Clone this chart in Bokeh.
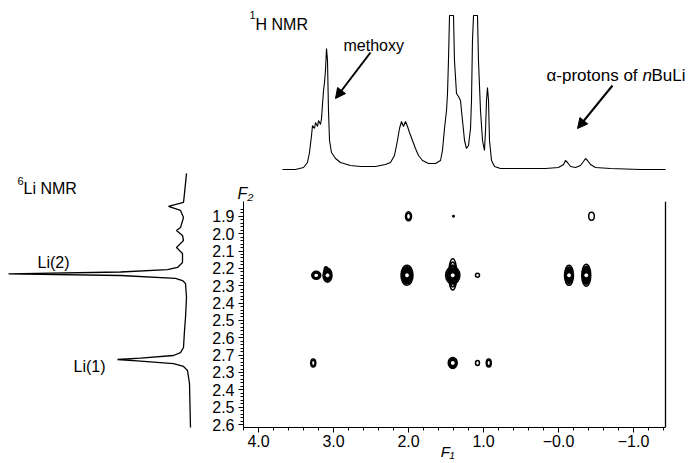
from bokeh.plotting import figure
from bokeh.models import Range1d, FixedTicker, Label, Arrow, NormalHead, ColumnDataSource, Span
from bokeh.layouts import row, column
from bokeh.embed import file_html
from bokeh.resources import INLINE

FONT = "Liberation Sans"

# ---------------- data ----------------
# 1H NMR trace (ppm, intensity above baseline)
h1_ppm = [3.68, 3.507, 3.40, 3.347, 3.32, 3.293, 3.28, 3.253, 3.24, 3.213, 3.20, 3.173, 3.16,
          3.133, 3.12, 3.107, 3.093, 3.08, 3.067, 3.053, 3.027, 2.973, 2.907, 2.773, 2.64, 2.44,
          2.307, 2.24, 2.187, 2.147, 2.12, 2.093, 2.067, 2.04, 2.013, 1.987, 1.947, 1.907, 1.867,
          1.813, 1.733, 1.64, 1.573, 1.547, 1.52, 1.493, 1.48, 1.467, 1.453, 1.40, 1.387, 1.36,
          1.333, 1.307, 1.28, 1.253, 1.227, 1.20, 1.173, 1.16, 1.147, 1.133, 1.08, 1.067, 1.04,
          1.013, 0.987, 0.973, 0.96, 0.947, 0.933, 0.92, 0.893, 0.853, 0.773, 0.507, 0.173, 0.0,
          -0.067, -0.093, -0.12, -0.16, -0.227, -0.293, -0.333, -0.36, -0.387, -0.427, -0.493,
          -0.693, -1.093, -1.427]
h1_int = [1, 1, 3, 8, 18, 35, 45, 42, 48, 44, 50, 46, 52,
          80, 88, 100, 122, 110, 60, 30, 18, 12, 8, 5, 4, 4,
          6, 8, 15, 30, 42, 49, 44, 49, 44, 38, 30, 22, 15,
          10, 7, 7, 10, 20, 42, 60, 77, 110, 155, 155, 110, 77,
          74, 70, 50, 30, 22, 25, 42, 70, 130, 155, 155, 110, 60,
          30, 20, 40, 70, 83, 70, 30, 10, 4, 2, 2, 2, 3,
          6, 10, 8, 4, 3, 5, 9, 12, 10, 6, 3,
          2, 1, 1]

# 6Li NMR trace (intensity, F2)
li_int = [1, 3, 4, 19, 7, 4, 7, 11, 5, 4, 11, 5, 5, 10, 20, 67, 179, 67, 12, 5, 2, 1, 2, 3, 4,
          7, 14, 47, 70, 47, 14, 4, 0, -2, -3]
li_f2 = [1.659, 1.774, 1.826, 1.849, 1.872, 1.912, 1.970, 1.987, 2.015, 2.044, 2.084, 2.119,
         2.170, 2.199, 2.211, 2.225, 2.236, 2.245, 2.262, 2.274, 2.291, 2.371, 2.486, 2.561,
         2.658, 2.687, 2.704, 2.719, 2.727, 2.736, 2.750, 2.767, 2.790, 2.865, 3.117]

# 2D cross peaks: centre (F1, F2), extent (ppm, F2 units), contour rings, dense core
pk_f1 = [2.00, 1.40, -0.44, 3.23, 3.08, 3.10, 2.02, 1.41, 1.41, 1.08, -0.14, -0.37, 3.27, 1.41, 1.08, 0.93]
pk_f2 = [1.90, 1.90, 1.90, 2.24, 2.24, 2.215, 2.24, 2.24, 2.235, 2.24, 2.24, 2.24, 2.745, 2.745, 2.745, 2.745]
pk_w = [0.08, 0.02, 0.075, 0.12, 0.12, 0.05, 0.16, 0.19, 0.11, 0.053, 0.12, 0.12, 0.067, 0.12, 0.053, 0.067]
pk_h = [0.052, 0.008, 0.046, 0.046, 0.08, 0.05, 0.115, 0.10, 0.18, 0.023, 0.115, 0.126, 0.046, 0.063, 0.029, 0.046]
pk_rings = [2, 1, 1, 3, 2, 2, 4, 3, 3, 1, 3, 3, 2, 3, 1, 2]
pk_dense = [0, 0, 0, 0, 1, 0, 1, 1, 0, 0, 1, 1, 0, 1, 0, 0]

x_ticks = [4.0, 3.0, 2.0, 1.0, 0.0, -1.0]
x_labels = ["4.0", "3.0", "2.0", "1.0", "\u22120.0", "\u22121.0"]
y_ticks = [1.9, 2.0, 2.1, 2.2, 2.3, 2.4, 2.5, 2.6, 2.7, 2.8, 2.9, 3.0, 3.1]
y_labels = ["1.9", "2.0", "2.1", "2.2", "2.3", "2.4", "2.5", "2.6", "2.7", "2.3", "2.4", "2.5", "2.6"]

# ---------------- geometry helpers (page pixels -> data) ----------------
PPX = 75.0      # px per ppm on F1
PPY = 174.3     # px per unit on F2
def ppm_at(px):
    return 4.2 - (px - 243) / PPX
def f2_at(py):
    return 2.0 + (py - 232.3) / PPY
def h1_at(py):
    return 170 - py
def li_at(px):
    return 187 - px

def lab(p, x, y, text, size="16px", style="normal", baseline="alphabetic", align="left"):
    p.add_layout(Label(x=x, y=y, text=text, text_font=FONT, text_font_size=size,
                       text_font_style=style, text_baseline=baseline, text_align=align,
                       text_color="black"))

# ---------------- left: 6Li spectrum ----------------
left = figure(width=195, height=462, x_range=Range1d(li_at(0), li_at(195)),
              y_range=Range1d(f2_at(462), f2_at(0)), x_axis_type=None, y_axis_type=None,
              toolbar_location=None, output_backend="svg", min_border=0,
              outline_line_color=None)
left.line(li_int, li_f2, line_color="black", line_width=1.3)
lab(left, li_at(17), f2_at(176), "6", size="11px", baseline="top")
lab(left, li_at(23), f2_at(188), "Li NMR")
lab(left, li_at(37), f2_at(262), "Li(2)")
lab(left, li_at(73), f2_at(366), "Li(1)")

XR = (4.2, ppm_at(693))
X_BOX_RIGHT = ppm_at(665)

# ---------------- top: 1H spectrum ----------------
top = figure(width=498, height=182, x_range=Range1d(*XR),
             y_range=Range1d(h1_at(182), h1_at(0)), x_axis_type=None, y_axis_type=None,
             toolbar_location=None, output_backend="svg", min_border_left=48,
             min_border_right=0, min_border_top=0, min_border_bottom=0,
             outline_line_color=None)
top.line(h1_ppm, h1_int, line_color="black", line_width=1.1)
lab(top, ppm_at(249), h1_at(10), "1", size="11px", baseline="top")
lab(top, ppm_at(255), h1_at(24), "H NMR")
lab(top, ppm_at(343), h1_at(45), "methoxy")
lab(top, ppm_at(546), h1_at(75), "\u03b1-protons of", size="17px")
lab(top, ppm_at(642), h1_at(75), "n", size="17px", style="italic")
lab(top, ppm_at(651), h1_at(75), "BuLi", size="17px")
for (xs, ys, xe, ye) in [(370, 52, 335, 98), (612, 85, 577, 128)]:
    top.add_layout(Arrow(end=NormalHead(size=10, fill_color="black", line_color="black"),
                         x_start=ppm_at(xs), y_start=h1_at(ys), x_end=ppm_at(xe), y_end=h1_at(ye),
                         line_color="black", line_width=2))

# ---------------- main: 2D plot ----------------
Y_MAIN = (f2_at(427), f2_at(200))
main = figure(width=498, height=280, x_range=Range1d(*XR),
              y_range=Range1d(*Y_MAIN), toolbar_location=None,
              output_backend="svg", min_border_left=48, min_border_right=0,
              min_border_top=18, min_border_bottom=35, outline_line_color=None,
              title="F\u2082")
main.xgrid.visible = False
main.ygrid.visible = False
main.title.align = "left"
main.title.offset = -6
main.title.standoff = 0
main.title.text_font = FONT
main.title.text_font_size = "16px"
main.title.text_font_style = "italic"
main.title.text_color = "black"

# right-hand edge of the box
main.segment(x0=[X_BOX_RIGHT], y0=[Y_MAIN[0]], x1=[X_BOX_RIGHT], y1=[Y_MAIN[1]],
             line_color="black", line_width=1.3)

rx, ry, rw, rh = [], [], [], []
for f1, f2, w, h, n in zip(pk_f1, pk_f2, pk_w, pk_h, pk_rings):
    for k in range(n):
        s = 1.0 - 0.6 * k / n
        rx.append(f1); ry.append(f2); rw.append(w * s); rh.append(h * s)
dx = [f for f, d in zip(pk_f1, pk_dense) if d]
dy = [f for f, d in zip(pk_f2, pk_dense) if d]
dw = [w * 0.85 for w, d in zip(pk_w, pk_dense) if d]
dh = [h * 0.85 for h, d in zip(pk_h, pk_dense) if d]
main.ellipse(x=dx, y=dy, width=dw, height=dh, fill_color="black", line_color="black")
main.ellipse(x="x", y="y", width="w", height="h",
             source=ColumnDataSource(dict(x=rx, y=ry, w=rw, h=rh)),
             fill_color=None, line_color="black", line_width=1.5)
main.scatter(dx, dy, size=3, color="white")

xa = main.xaxis[0]
xa.ticker = FixedTicker(ticks=x_ticks, minor_ticks=[round(4.2 - 0.2 * i, 2) for i in range(29)])
xa.major_label_overrides = {t: l for t, l in zip(x_ticks, x_labels)}
xa.bounds = (4.2, X_BOX_RIGHT)
# the label is centred on the frame; trailing no-break spaces move it under the box centre
xa.axis_label = "F\u2081" + "\u00a0" * 10
xa.axis_label_text_font = FONT
xa.axis_label_text_font_size = "15px"
xa.axis_label_text_font_style = "italic"
xa.axis_label_text_color = "black"
xa.axis_label_standoff = -7
ya = main.yaxis[0]
ya.ticker = FixedTicker(ticks=y_ticks, minor_ticks=[round(1.86 + 0.02 * i, 2) for i in range(63)])
ya.major_label_overrides = {t: l for t, l in zip(y_ticks, y_labels)}
for ax in (xa, ya):
    ax.major_tick_in = 0
    ax.major_tick_out = 5
    ax.minor_tick_in = 0
    ax.minor_tick_out = 3
    ax.axis_line_color = "black"
    ax.major_tick_line_color = "black"
    ax.minor_tick_line_color = "black"
    ax.major_label_text_font = FONT
    ax.major_label_text_font_size = "16px"
    ax.major_label_text_color = "black"
xa.major_label_standoff = 2
ya.major_label_standoff = 4

layout = row(left, column(top, main))
open("out.html", "w").write(file_html(layout, INLINE))
